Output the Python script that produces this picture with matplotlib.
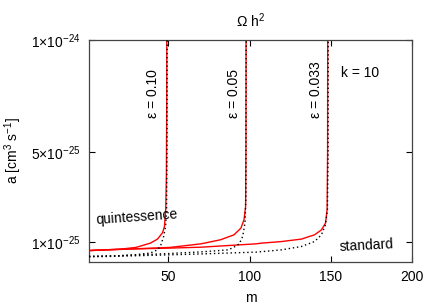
#!/usr/bin/env python3

import numpy as np
import matplotlib
matplotlib.use('Agg')
import matplotlib.pyplot as plt

plt.rcParams['font.family'] = ['Liberation Sans', 'DejaVu Sans']
plt.rcParams['mathtext.default'] = 'regular'
plt.rcParams['font.size'] = 10

# values of a in units of 1e-25 cm^3 s^-1
UNIT = 1e-25

# quintessence (red, solid)
m_q1 = [1, 10, 20, 30, 38.8, 43.2, 46.3, 47.5, 48.3, 48.7, 48.9, 49.0]
a_q1 = [0.61, 0.64, 0.67, 0.75, 0.94, 1.12, 1.40, 1.68, 2.43, 4.0, 7.0, 12.0]

m_q2 = [1, 20, 51, 70, 82, 90.3, 94.6, 96.5, 97.5, 97.7, 97.8]
a_q2 = [0.61, 0.66, 0.75, 0.91, 1.09, 1.31, 1.61, 1.98, 2.57, 5.0, 12.0]

m_q3 = [1, 20, 51, 70, 104, 107, 119.4, 131.8, 139.9, 144.2, 146.7, 147.7, 148.0, 148.1]
a_q3 = [0.61, 0.67, 0.72, 0.76, 0.91, 0.94, 1.01, 1.12, 1.31, 1.53, 1.83, 2.43, 5.0, 12.0]

# standard (black, dotted)
m_s1 = [1, 20, 30, 38.8, 43.2, 45.1, 47.0, 48.2, 48.8, 49.1, 49.2]
a_s1 = [0.35, 0.38, 0.43, 0.50, 0.64, 0.82, 1.24, 1.68, 2.4, 5.0, 12.0]

m_s2 = [1, 20, 51, 70, 86.7, 90.3, 93.6, 95.7, 97.1, 97.7, 97.9]
a_s2 = [0.35, 0.38, 0.48, 0.55, 0.64, 0.76, 0.91, 1.24, 1.83, 3.0, 12.0]

m_s3 = [1, 20, 51, 70, 104, 119.4, 131.8, 139.9, 144.2, 146.7, 147.9, 148.3, 148.4]
a_s3 = [0.33, 0.36, 0.42, 0.46, 0.54, 0.64, 0.79, 1.01, 1.31, 1.76, 2.43, 5.0, 12.0]

eps_labels = ['ε = 0.10', 'ε = 0.05', 'ε = 0.033']
eps_pos = [40.4, 90.3, 141.1]

fig = plt.figure(figsize=(4.36, 3.05), dpi=100)
ax = fig.add_axes([0.204, 0.141, 0.741, 0.728])

for m, a in [(m_q1, a_q1), (m_q2, a_q2), (m_q3, a_q3)]:
    ax.plot(m, np.array(a) * UNIT, color='red', lw=1.0, zorder=2)
for m, a in [(m_s1, a_s1), (m_s2, a_s2), (m_s3, a_s3)]:
    ax.plot(m, np.array(a) * UNIT, color='black', lw=1.0, ls=(0, (1, 2)), zorder=3)

ax.set_xlim(1, 200)
ax.set_ylim(0.1 * UNIT, 10 * UNIT)
ax.set_xticks([50, 100, 150, 200])
ax.set_yticks([1 * UNIT, 5 * UNIT, 10 * UNIT])
ax.set_yticklabels([r'1×10$^{-25}$', r'5×10$^{-25}$', r'1×10$^{-24}$'])

ax.tick_params(direction='in', top=True, right=True, length=4, width=0.8, pad=6)
for s in ax.spines.values():
    s.set_color('#444444')
    s.set_linewidth(0.9)

ax.set_xlabel('m', labelpad=5)
ax.set_ylabel(r'a [cm$^{3}$ s$^{-1}$]')
ax.yaxis.set_label_coords(-0.2, 0.5)
ax.set_title(r'$\Omega$ h$^{2}$', pad=9, fontsize=10)

for lab, x in zip(eps_labels, eps_pos):
    ax.text(x, 6.52 * UNIT, lab, rotation=90, ha='center', va='bottom')
ax.text(156, 8.53 * UNIT, 'k = 10', ha='left', va='center')
ax.text(4.8, 2.1 * UNIT, 'quintessence', rotation=4, ha='left', va='center')
ax.text(155, 0.85 * UNIT, 'standard', rotation=3, ha='left', va='center')

fig.savefig('out.png', dpi=100)
